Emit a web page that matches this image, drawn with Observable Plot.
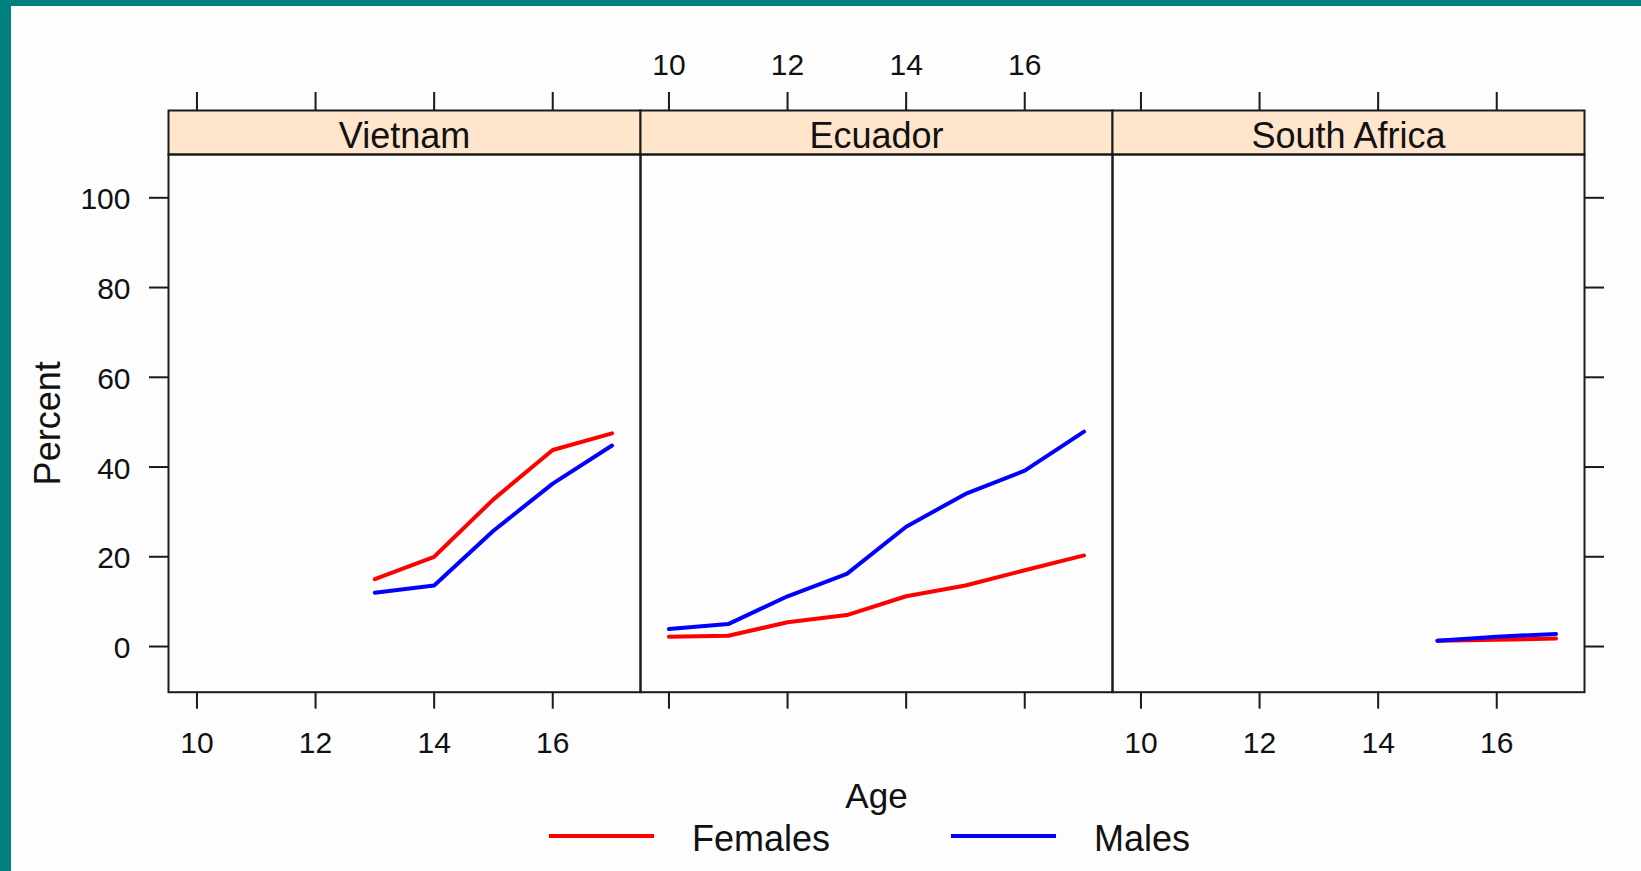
<!DOCTYPE html>
<html>
<head>
<meta charset="utf-8">
<script src="https://cdn.jsdelivr.net/npm/d3@7"></script>
<script src="https://cdn.jsdelivr.net/npm/@observablehq/plot@0.6"></script>
<style>
  html, body { margin: 0; padding: 0; background: #008080; }
  #wrap { position: relative; width: 1641px; height: 871px; overflow: hidden; }
  #paper { position: absolute; left: 11px; top: 6px; right: 0; bottom: 0; background: #fdfdfd; }
  #chart { position: absolute; left: 0; top: 0; }
  .lg-line { position: absolute; height: 4px; }
  .lg-text { position: absolute; font-family: Arial, "Liberation Sans", sans-serif; font-size: 36px; line-height: 36px; color: #111; white-space: nowrap; }
</style>
</head>
<body>
<div id="wrap">
  <div id="paper"></div>
  <div id="chart"></div>
  <div class="lg-line" style="left:549px; top:834px; width:105px; background:#ff0000;"></div>
  <div class="lg-text" style="left:692px; top:821px;">Females</div>
  <div class="lg-line" style="left:951px; top:834px; width:105px; background:#0000ff;"></div>
  <div class="lg-text" style="left:1094px; top:821px;">Males</div>
</div>
<script>
// ---- data ----
const countries = ["Vietnam", "Ecuador", "South Africa"];
const sexes = ["Females", "Males"];
const sexColors = ["#ff0000", "#0000ff"];

const vietnamAges = [13, 14, 15, 16, 17];
const vietnamFemales = [15.0, 20.0, 32.8, 43.8, 47.5];
const vietnamMales = [12.0, 13.6, 25.8, 36.3, 44.8];

const ecuadorAges = [10, 11, 12, 13, 14, 15, 16, 17];
const ecuadorFemales = [2.2, 2.4, 5.4, 7.0, 11.2, 13.6, 17.0, 20.3];
const ecuadorMales = [3.9, 5.0, 11.2, 16.2, 26.7, 34.0, 39.2, 47.9];

const southAfricaAges = [15, 16, 17];
const southAfricaFemales = [1.3, 1.5, 1.8];
const southAfricaMales = [1.3, 2.2, 2.8];

const xTicks = [10, 12, 14, 16];
const yTicks = [0, 20, 40, 60, 80, 100];
const xLabel = "Age";
const yLabel = "Percent";

// ---- table built from the arrays ----
const rows = [];
function addSeries(country, sex, ages, vals) {
  ages.forEach((a, i) => rows.push({country, sex, age: a, pct: vals[i]}));
}
addSeries("Vietnam", "Females", vietnamAges, vietnamFemales);
addSeries("Vietnam", "Males", vietnamAges, vietnamMales);
addSeries("Ecuador", "Females", ecuadorAges, ecuadorFemales);
addSeries("Ecuador", "Males", ecuadorAges, ecuadorMales);
addSeries("South Africa", "Females", southAfricaAges, southAfricaFemales);
addSeries("South Africa", "Males", southAfricaAges, southAfricaMales);

const topTickLabels = xTicks.map(age => ({country: "Ecuador", age}));
const bottomTickLabels = ["Vietnam", "South Africa"].flatMap(c => xTicks.map(age => ({country: c, age})));

const font = "Arial, 'Liberation Sans', sans-serif";
const ink = "#1a1a1a";
const STRIP = 44;
const H = 871, MT = 110, MB = 179.3;
const panelH = H - MT - MB - STRIP;

const chart = Plot.plot({
  width: 1641,
  height: H,
  marginLeft: 167.5,
  marginRight: 57.5,
  marginTop: MT,
  marginBottom: MB,
  style: {background: "transparent", fontFamily: font, color: "#111", overflow: "visible"},
  fx: {domain: countries, padding: 0, axis: null},
  x: {domain: [9.52, 17.48]},
  y: {domain: [-10.18, 109.65], insetTop: STRIP},
  color: {domain: sexes, range: sexColors},
  marks: [
    Plot.frame({fill: "#ffe5cc", stroke: ink, strokeWidth: 2, insetBottom: panelH}),
    Plot.frame({stroke: ink, strokeWidth: 2, insetTop: STRIP}),
    Plot.lineY(rows, {fx: "country", x: "age", y: "pct", stroke: "sex", z: "sex", strokeWidth: 4}),
    Plot.text(countries, {fx: d => d, text: d => d, frameAnchor: "top", lineAnchor: "middle", dy: 26, fontSize: 36, fill: "#111"}),
    Plot.axisX({anchor: "top", ticks: xTicks, tickSize: 19, tickFormat: () => "", label: null, stroke: ink, strokeWidth: 2}),
    Plot.axisX({anchor: "bottom", ticks: xTicks, tickSize: 17, tickFormat: () => "", label: null, stroke: ink, strokeWidth: 2}),
    Plot.axisY({anchor: "left", ticks: yTicks, tickSize: 19, tickFormat: () => "", label: null, stroke: ink, strokeWidth: 2}),
    Plot.axisY({anchor: "right", ticks: yTicks, tickSize: 19, tickFormat: () => "", label: null, stroke: ink, strokeWidth: 2}),
    Plot.text(topTickLabels, {fx: "country", x: "age", text: d => String(d.age), frameAnchor: "top", lineAnchor: "middle", dy: -45, fontSize: 30, fill: "#111"}),
    Plot.text(bottomTickLabels, {fx: "country", x: "age", text: d => String(d.age), frameAnchor: "bottom", lineAnchor: "middle", dy: 51, fontSize: 30, fill: "#111"}),
    Plot.text(yTicks, {fx: () => "Vietnam", y: d => d, text: d => String(d), frameAnchor: "left", textAnchor: "end", lineAnchor: "middle", dx: -38, dy: 2, fontSize: 30, fill: "#111"}),
    Plot.text([xLabel], {fx: () => "Ecuador", text: d => d, frameAnchor: "bottom", lineAnchor: "middle", dy: 104.5, fontSize: 35, fill: "#111"}),
    Plot.text([yLabel], {fx: () => "Vietnam", text: d => d, frameAnchor: "left", textAnchor: "middle", lineAnchor: "middle", rotate: -90, dx: -120, dy: 22, fontSize: 36, fill: "#111"})
  ]
});
document.getElementById("chart").appendChild(chart);
</script>
</body>
</html>
